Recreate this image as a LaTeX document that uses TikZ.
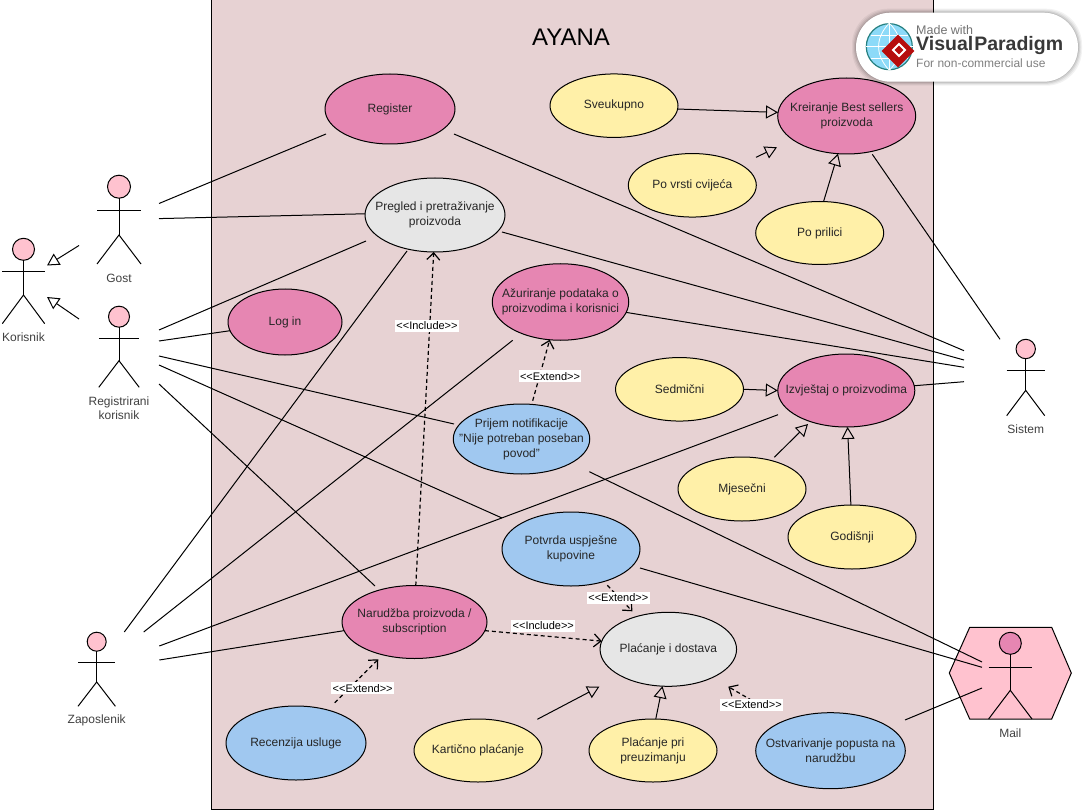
\documentclass[tikz,border=0pt]{standalone}
\usepackage{fontspec}
\setmainfont{Liberation Sans}
\usepackage{xcolor}
\usetikzlibrary{shapes.geometric, arrows.meta}
\definecolor{sysbg}{HTML}{E7D2D3}
\definecolor{ucpink}{HTML}{E686B2}
\definecolor{ucyellow}{HTML}{FFF0A8}
\definecolor{ucblue}{HTML}{A0C8F0}
\definecolor{ucgray}{HTML}{E6E6E6}
\definecolor{actrose}{HTML}{FFC2CF}
\definecolor{txtgray}{HTML}{262626}
\newcommand{\stereo}[1]{<{}<#1>{}>}

\begin{document}
\begin{tikzpicture}[x=1pt, y=-1pt, line width=1pt,
  usecase/.style={ellipse, draw, fill=#1, inner xsep=-40pt, inner ysep=-15pt, outer sep=0pt, align=center, text=txtgray,
    font=\fontsize{12}{15}\selectfont},
  usecase/.default=ucpink,
  actorname/.style={align=center, inner sep=0pt, text=black!75, font=\fontsize{12}{14.5}\selectfont},
  stereotype/.style={fill=white, inner xsep=1.5pt, inner ysep=2pt, font=\fontsize{11}{12}\selectfont},
  assoc/.style={draw, line width=1pt},
  inherit/.style={draw, -{Triangle[open, length=12pt, width=13pt]}},
  depend/.style={draw, dashed, line width=1.2pt, dash pattern=on 4pt off 3pt, -{Straight Barb[length=7pt, width=13pt]}},
  pics/actor/.style n args={6}{code={
    \node[circle, draw, fill=#1, inner sep=0pt, outer sep=0pt, minimum size=2*#2] (-head) at (0,0) {};
    \coordinate (-hip) at (0,#5);
    \coordinate (-armL) at (-#3,#4);
    \coordinate (-armR) at (#3,#4);
    \coordinate (-footL) at (-#3,#6);
    \coordinate (-footR) at (#3,#6);
    \draw (-head.south) -- (-hip);
    \draw (-armL) -- (-armR);
    \draw (-footL) -- (-hip) -- (-footR);
  }}]
  \useasboundingbox (0,0) rectangle (1089,810);

  % system boundary and mail server
  \draw[fill=sysbg] (211,-2) rectangle (933,809);
  \node[font=\fontsize{24}{28}\selectfont, inner sep=0pt] (title) at (571,37) {AYANA};
  \draw[fill=actrose] (969.7,627.3) -- (1051.7,627.3) -- (1071.3,673) -- (1051.7,719) -- (969.7,719) -- (949.3,673) -- cycle;

  % use cases
  \node[usecase, minimum width=130, minimum height=70] (register) at (390,109) {Register};
  \node[usecase=ucyellow, minimum width=128, minimum height=63.5] (sveukupno) at (614,105.7) {Sveukupno};
  \node[usecase, minimum width=138, minimum height=76] (kreiranje) at (846.7,116) {Kreiranje Best sellers\\proizvoda};
  \node[usecase=ucyellow, minimum width=128, minimum height=63.5] (povrsti) at (692.3,185.3) {Po vrsti cvijeća};
  \node[usecase=ucyellow, minimum width=128, minimum height=63] (poprilici) at (819.7,233) {Po prilici};
  \node[usecase=ucgray, minimum width=140, minimum height=74] (pregled) at (435,215) {Pregled i pretraživanje\\proizvoda};
  \node[usecase, minimum width=136.5, minimum height=76.5] (azuriranje) at (560.5,302) {Ažuriranje podataka o\\proizvodima i korisnici};
  \node[usecase, minimum width=114, minimum height=66] (login) at (285,322) {Log in};
  \node[usecase=ucyellow, minimum width=128, minimum height=63.5] (sedmicni) at (679.5,389.3) {Sedmični};
  \node[usecase, minimum width=137, minimum height=73] (izvjestaj) at (846.3,390.5) {Izvještaj o proizvodima};
  \node[usecase=ucblue, minimum width=136.5, minimum height=70] (prijem) at (521.5,439) {Prijem notifikacije\\"Nije potreban poseban\\povod"};
  \node[usecase=ucyellow, minimum width=128, minimum height=64] (mjesecni) at (742,489) {Mjesečni};
  \node[usecase=ucyellow, minimum width=128, minimum height=64] (godisnji) at (852,537) {Godišnji};
  \node[usecase=ucblue, minimum width=138, minimum height=74] (potvrda) at (571,549) {Potvrda uspješne\\kupovine};
  \node[usecase, minimum width=145, minimum height=73] (narudzba) at (414.5,622) {Narudžba proizvoda /\\subscription};
  \node[usecase=ucgray, minimum width=136.5, minimum height=74] (placanje) at (668.3,649.3) {Plaćanje i dostava};
  \node[usecase=ucblue, minimum width=140, minimum height=74] (recenzija) at (296,743) {Recenzija usluge};
  \node[usecase=ucyellow, minimum width=128, minimum height=63] (karticno) at (478,750.5) {Kartično plaćanje};
  \node[usecase=ucyellow, minimum width=128, minimum height=63] (preuzimanje) at (653,750.5) {Plaćanje pri\\preuzimanju};
  \node[usecase=ucblue, minimum width=149.6, minimum height=76] (ostvarivanje) at (830.5,750.7) {Ostvarivanje popusta na\\narudžbu};

  % actors
  \pic (korisnik) at (23.5,249.3) {actor={actrose}{11}{21.2}{22.7}{45.7}{74.4}};
  \pic (gost) at (119,186.7) {actor={actrose}{11.5}{22}{24}{48.3}{77.3}};
  \pic (registrirani) at (119,316.7) {actor={actrose}{10.5}{20.2}{22}{44}{70.6}};
  \pic (zaposlenik) at (96.7,641.7) {actor={actrose}{9.5}{18.7}{20.3}{40.3}{64.6}};
  \pic (sistem) at (1025.7,349) {actor={actrose}{9.7}{19}{21}{41.3}{66.7}};
  \pic (mail) at (1010.3,643.3) {actor={ucpink}{11}{21.7}{23.7}{47}{75.7}};
  \node[actorname] (korisnikname) at (23.5,337.2) {Korisnik};
  \node[actorname] (gostname) at (119,278.2) {Gost};
  \node[actorname] (registriraniname) at (119,408.2) {Registrirani\\korisnik};
  \node[actorname] (zaposlenikname) at (96.7,720.2) {Zaposlenik};
  \node[actorname] (sistemname) at (1025.7,429.2) {Sistem};
  \node[actorname] (mailname) at (1010.3,733.2) {Mail};

  % free ends of the connectors
  \coordinate (gostA) at (159,203.5);
  \coordinate (gostB) at (159,218.6);
  \coordinate (gostK) at (79,245.5);
  \coordinate (korG) at (47,265.5);
  \coordinate (regK) at (79,319);
  \coordinate (korR) at (47,297);
  \coordinate (regA) at (159,330);
  \coordinate (regB) at (159,341);
  \coordinate (regC) at (159,356);
  \coordinate (regD) at (159,365);
  \coordinate (regE) at (159,384);
  \coordinate (zapA) at (124.3,632);
  \coordinate (zapB) at (143.7,632);
  \coordinate (zapC) at (159.3,646);
  \coordinate (zapD) at (159.3,660);
  \coordinate (sisA) at (964,350.7);
  \coordinate (sisB) at (964,360);
  \coordinate (sisC) at (964,367.3);
  \coordinate (sisD) at (964,381.7);
  \coordinate (sisE) at (1000,339.3);
  \coordinate (mailA) at (982,662);
  \coordinate (mailB) at (982,667.3);
  \coordinate (mailC) at (982,688);
  \coordinate (registerL) at (326,134);
  \coordinate (registerR) at (454,134);
  \coordinate (pregledA) at (366,241);
  \coordinate (pregledB) at (407,251);
  \coordinate (pregledC) at (502,232);
  \coordinate (azurFree) at (512.7,340.3);
  \coordinate (izvjFree) at (778,414.7);
  \coordinate (prijemL) at (454,424);
  \coordinate (prijemFree) at (589.3,471.7);
  \coordinate (prijemDep) at (532.7,400.7);
  \coordinate (potvrdaA) at (502,518);
  \coordinate (potvrdaB) at (640,568);
  \coordinate (potvrdaC) at (607.3,585.3);
  \coordinate (narFree) at (375,586);
  \coordinate (narTip) at (378.3,659.3);
  \coordinate (recFree) at (334.7,702.7);
  \coordinate (kreFree) at (872.3,154.3);
  \coordinate (ostvFree) at (905,720);
  \coordinate (ostvDep) at (758,704);
  \coordinate (povrstiFree) at (756,157.3);
  \coordinate (povrstiTip) at (777,147.3);
  \coordinate (mjesFree) at (774.3,457.3);
  \coordinate (mjesTip) at (808,424);
  \coordinate (kartFree) at (537.3,719.3);
  \coordinate (kartTip) at (599.3,686.7);
  \coordinate (placTipA) at (632.3,611.3);
  \coordinate (placTipB) at (728.3,686.7);

  % associations
  \draw[assoc] (gostA) -- (registerL);
  \draw[assoc] (gostB) -- (pregled.179);
  \draw[assoc] (regA) -- (pregledA);
  \draw[assoc] (regB) -- (login.189);
  \draw[assoc] (regC) -- (prijemL);
  \draw[assoc] (regD) -- (potvrdaA);
  \draw[assoc] (regE) -- (narFree);
  \draw[assoc] (zapA) -- (pregledB);
  \draw[assoc] (zapB) -- (azurFree);
  \draw[assoc] (zapC) -- (izvjFree);
  \draw[assoc] (zapD) -- (narudzba.187.9);
  \draw[assoc] (registerR) -- (sisA);
  \draw[assoc] (pregledC) -- (sisB);
  \draw[assoc] (azuriranje.351) -- (sisC);
  \draw[assoc] (izvjestaj.4.7) -- (sisD);
  \draw[assoc] (kreFree) -- (sisE);
  \draw[assoc] (prijemFree) -- (mailA);
  \draw[assoc] (potvrdaB) -- (mailB);
  \draw[assoc] (ostvFree) -- (mailC);

  % generalizations
  \draw[inherit] (gostK) -- (korG);
  \draw[inherit] (regK) -- (korR);
  \draw[inherit] (sveukupno.357) -- (kreiranje.177.3);
  \draw[inherit] (povrstiFree) -- (povrstiTip);
  \draw[inherit] (poprilici.83.5) -- (kreiranje.257);
  \draw[inherit] (sedmicni.east) -- (izvjestaj.west);
  \draw[inherit] (mjesFree) -- (mjesTip);
  \draw[inherit] (godisnji.92) -- (izvjestaj.272.7);
  \draw[inherit] (kartFree) -- (kartTip);
  \draw[inherit] (preuzimanje.85) -- (placanje.261.6);

  % include and extend
  \draw[depend] (narudzba.88) -- (pregled.268);
  \draw[depend] (prijemDep) -- (azuriranje.254.5);
  \draw[depend] (narudzba.353.7) -- (placanje.173);
  \draw[depend] (potvrdaC) -- (placTipA);
  \draw[depend] (recFree) -- (narTip);
  \draw[depend] (ostvDep) -- (placTipB);
  \node[stereotype] (lblincA) at (427,326) {\stereo{Include}};
  \node[stereotype] (lblextA) at (550,376.3) {\stereo{Extend}};
  \node[stereotype] (lblincB) at (543.3,626) {\stereo{Include}};
  \node[stereotype] (lblextB) at (618.3,597.7) {\stereo{Extend}};
  \node[stereotype] (lblextC) at (362.7,688.3) {\stereo{Extend}};
  \node[stereotype] (lblextD) at (751.7,704.7) {\stereo{Extend}};

  % badge
  \foreach \grow/\shade in {4/5,3/6,2/8,1/10}
    \fill[black, opacity=0.01*\shade, rounded corners=36pt] (856-\grow,12.7-\grow) rectangle (1078+\grow,81.7+\grow);
  \fill[white, rounded corners=34.5pt] (856,12.7) rectangle (1078,81.7);
  \node[circle, draw=teal!70!gray, fill=cyan!45!white, line width=1.2pt, minimum size=46, inner sep=0pt] (globe) at (889.3,46.7) {};
  \draw[white, line width=0.8pt] (globe.north) -- (globe.south) (globe.west) -- (globe.east);
  \draw[white, line width=0.8pt] (globe.north) .. controls (875,38) and (875,55) .. (globe.south);
  \draw[white, line width=0.8pt] (globe.north) .. controls (904,38) and (904,55) .. (globe.south);
  \draw[white, line width=0.8pt] (871,35) -- (908,35) (871,58) -- (908,58);
  \node[diamond, fill=red!70!black!95, minimum size=33, inner sep=0pt] (logo) at (898,51) {};
  \draw[white, line width=2pt] (893,50) -- (899,44) -- (905,50) -- (899,56) -- cycle;
  \node[anchor=west, inner sep=0pt, text=black!55, font=\fontsize{12.5}{14}\selectfont] (madewith) at (915.7,30) {Made with};
  \node[anchor=west, inner sep=0pt, text=black!78, font=\fontsize{19.5}{22}\selectfont\bfseries] (vpname) at (915.7,46) {Visual\kern1pt Paradigm};
  \node[anchor=west, inner sep=0pt, text=black!50, font=\fontsize{12}{14}\selectfont] (usenote) at (915.7,63) {For non-commercial use};
\end{tikzpicture}
\end{document}
